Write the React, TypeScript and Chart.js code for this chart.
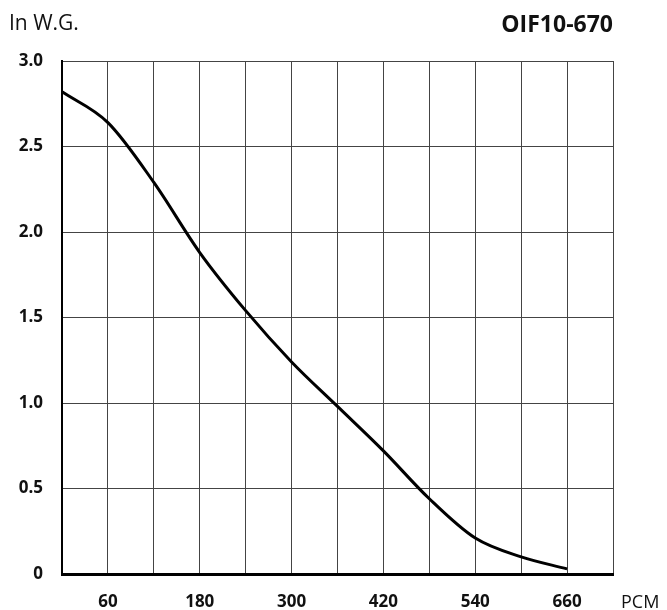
import React, { useEffect, useRef } from "react";
import { Chart, registerables } from "chart.js";

Chart.register(...registerables);

const flowPCM = [0, 60, 120, 180, 240, 300, 360, 420, 480, 540, 600, 660];
const pressureInWG = [2.82, 2.64, 2.29, 1.88, 1.54, 1.24, 0.98, 0.72, 0.44, 0.21, 0.1, 0.03];
const xLabelValues = [60, 180, 300, 420, 540, 660];
const titleText = "OIF10-670";
const yUnitText = "In W.G.";
const xUnitText = "PCM";

const FONT = "'Open Sans', 'Noto Sans', sans-serif";

const textPlugin = {
  id: "textPlugin",
  afterDraw(chart: any) {
    const ctx = chart.ctx;
    ctx.save();
    ctx.fillStyle = "#111";
    ctx.textBaseline = "alphabetic";
    ctx.font = `400 21px ${FONT}`;
    ctx.textAlign = "left";
    ctx.fillText(yUnitText, 9, 30);
    ctx.font = `700 23px ${FONT}`;
    ctx.textAlign = "right";
    ctx.fillText(titleText, 613, 32);
    ctx.font = `400 18px ${FONT}`;
    ctx.textAlign = "left";
    ctx.fillText(xUnitText, 621, 608);
    ctx.restore();
  },
};

export default function App() {
  const ref = useRef<HTMLCanvasElement>(null);
  useEffect(() => {
    if (!ref.current) return;
    const chart = new Chart(ref.current, {
      type: "line",
      data: {
        datasets: [
          {
            data: flowPCM.map((x, i) => ({ x, y: pressureInWG[i] })),
            borderColor: "#000",
            borderWidth: 3,
            pointRadius: 0,
            tension: 0.4,
            cubicInterpolationMode: "monotone",
            fill: false,
          },
        ],
      },
      options: {
        animation: false,
        responsive: false,
        maintainAspectRatio: false,
        layout: { padding: { left: 0, right: 54, top: 61, bottom: 0 } },
        plugins: { legend: { display: false }, tooltip: { enabled: false } },
        scales: {
          x: {
            type: "linear",
            min: 0,
            max: 720,
            afterFit: (s: any) => {
              s.height = 36;
            },
            ticks: {
              stepSize: 60,
              autoSkip: false,
              maxRotation: 0,
              padding: 18,
              color: "#111",
              font: { family: FONT, size: 17, weight: "bold" },
              callback: (v: any) => (xLabelValues.includes(Number(v)) ? String(v) : ""),
            },
            grid: { color: "#444", lineWidth: 1, drawTicks: false },
            border: { color: "#000", width: 3 },
          },
          y: {
            min: 0,
            max: 3,
            afterFit: (s: any) => {
              s.width = 62;
            },
            ticks: {
              stepSize: 0.5,
              padding: 19,
              color: "#111",
              font: { family: FONT, size: 17, weight: "bold" },
              callback: (v: any) => (Number(v) === 0 ? "0" : Number(v).toFixed(1)),
            },
            grid: { color: "#444", lineWidth: 1, drawTicks: false },
            border: { color: "#000", width: 2 },
          },
        },
      },
      plugins: [textPlugin],
    } as any);
    return () => chart.destroy();
  }, []);
  return (
    <div style={{ position: "fixed", left: 0, top: 0, width: 667, height: 610, background: "#fff" }}>
      <canvas ref={ref} width={667} height={610} style={{ width: 667, height: 610 }} />
    </div>
  );
}
